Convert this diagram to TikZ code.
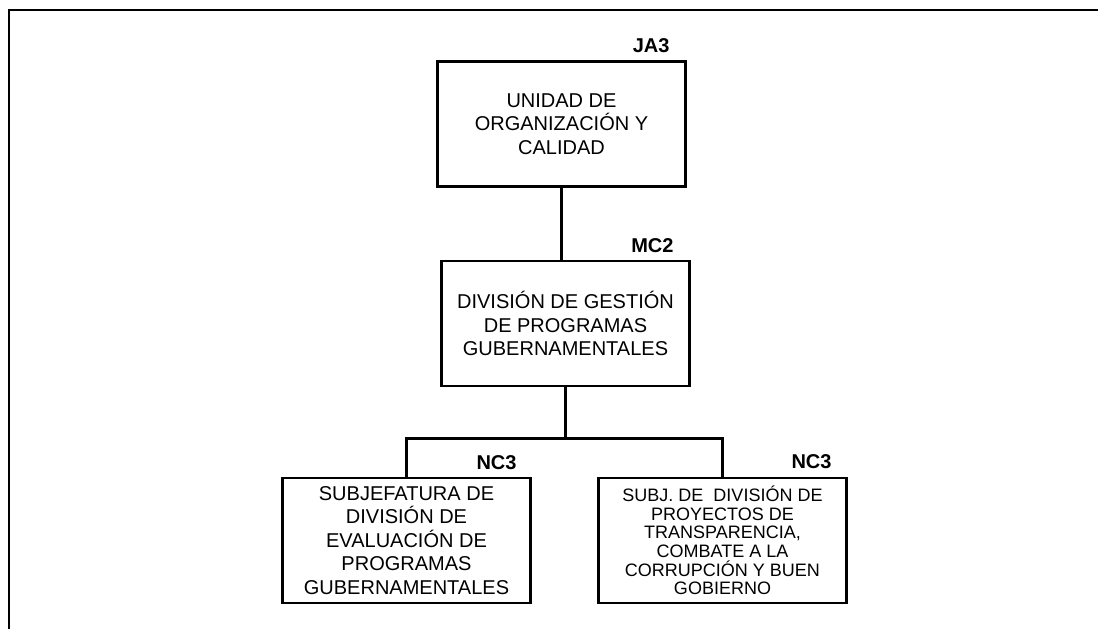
\documentclass[tikz,border=0pt]{standalone}
\usepackage{fontspec}
\setmainfont{Liberation Sans}
\usetikzlibrary{calc}

\begin{document}
\begin{tikzpicture}[x=1pt, y=1pt,
    unitbox/.style={draw, line width=2.5pt, align=center, inner sep=0pt,
        minimum width=248pt, minimum height=125pt, font=\fontsize{20}{23.5}\selectfont},
    grade/.style={anchor=south east, inner sep=0pt, font=\bfseries\fontsize{20}{20}\selectfont},
    link/.style={line width=3pt}]
    \useasboundingbox (0,0) rectangle (1098,629);

    % Frame
    \draw [line width=2pt] (9,0) -- (9,619) -- (1098,619);

    % Boxes
    \node [unitbox] (unidad) at (561.5,505) {UNIDAD DE\\ORGANIZACIÓN Y\\CALIDAD};
    \node [unitbox] (gestion) at (565.5,305.5) {DIVISIÓN DE GESTIÓN\\DE PROGRAMAS\\GUBERNAMENTALES};
    \node [unitbox] (evaluacion) at (406.5,88.5) {SUBJEFATURA DE\\DIVISIÓN DE\\EVALUACIÓN DE\\PROGRAMAS\\GUBERNAMENTALES};
    \node [unitbox, font=\fontsize{18}{18.7}\selectfont] (proyectos) at (722.5,88.5)
        {SUBJ. DE~ DIVISIÓN DE\\PROYECTOS DE\\TRANSPARENCIA,\\COMBATE A LA\\CORRUPCIÓN Y BUEN\\GOBIERNO};

    % Grades
    \node [grade] (ja3) at ($(unidad.north east)+(-17,7)$) {JA3};
    \node [grade] (mc2) at ($(gestion.north east)+(-17,7)$) {MC2};
    \node [grade] (nc3a) at ($(evaluacion.north east)+(-15,7)$) {NC3};
    \node [grade] (nc3b) at ($(proyectos.north east)+(-16,8)$) {NC3};

    % Links
    \draw [link] (unidad.south) -- (gestion.north -| unidad.south);
    \draw [link] (gestion.south) -- ++(0,-51) coordinate (bus);
    \draw [link] (evaluacion.north) |- (bus) -| (proyectos.north);
\end{tikzpicture}
\end{document}
